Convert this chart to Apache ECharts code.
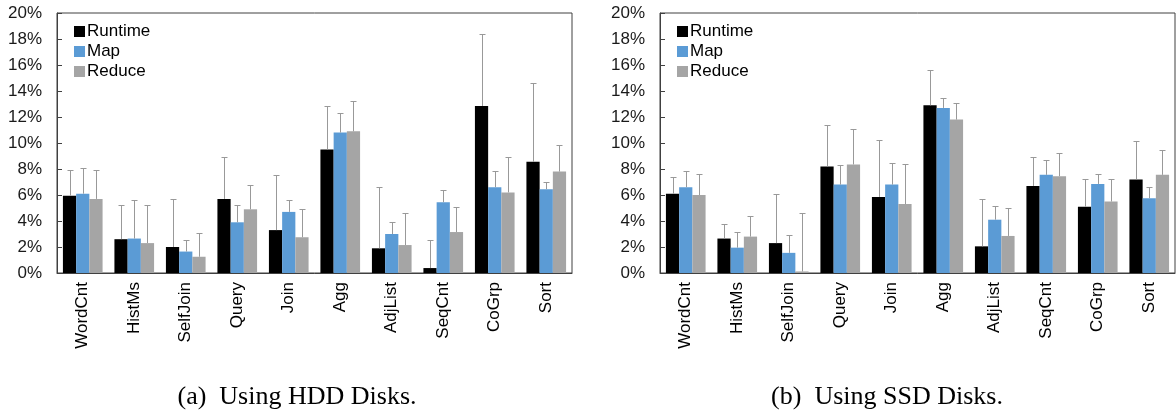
<!DOCTYPE html>
<html>
<head>
<meta charset="utf-8">
<script src="https://cdn.jsdelivr.net/npm/echarts@6/dist/echarts.min.js"></script>
<style>
  html, body { margin: 0; padding: 0; background: #fff; }
  #chart { width: 1176px; height: 414px; }
</style>
</head>
<body>
<div id="chart"></div>
<script>
// 数据 (百分比)
const categories = ['WordCnt', 'HistMs', 'SelfJoin', 'Query', 'Join', 'Agg', 'AdjList', 'SeqCnt', 'CoGrp', 'Sort'];
const yTicks = [0, 2, 4, 6, 8, 10, 12, 14, 16, 18, 20];

// HDD
const hddRuntime = [5.95, 2.6, 2.0, 5.7, 3.3, 9.5, 1.9, 0.38, 12.85, 8.55];
const hddMap = [6.1, 2.65, 1.65, 3.9, 4.7, 10.8, 3.0, 5.45, 6.6, 6.45];
const hddReduce = [5.7, 2.3, 1.25, 4.9, 2.75, 10.9, 2.15, 3.15, 6.2, 7.8];
const hddRuntimeHi = [7.95, 5.25, 5.7, 8.9, 7.55, 12.85, 6.65, 2.55, 18.4, 14.6];
const hddMapHi = [8.1, 5.6, 2.55, 5.25, 5.6, 12.3, 3.9, 6.4, 7.85, 7.0];
const hddReduceHi = [7.95, 5.25, 3.05, 6.75, 4.95, 13.2, 4.6, 5.05, 8.95, 9.85];

// SSD
const ssdRuntime = [6.1, 2.65, 2.3, 8.2, 5.85, 12.9, 2.05, 6.7, 5.1, 7.2];
const ssdMap = [6.6, 1.95, 1.55, 6.8, 6.8, 12.7, 4.1, 7.55, 6.85, 5.75];
const ssdReduce = [6.0, 2.8, 0.12, 8.35, 5.3, 11.8, 2.85, 7.45, 5.5, 7.55];
const ssdRuntimeHi = [7.35, 3.8, 6.1, 11.4, 10.25, 15.65, 5.7, 8.95, 7.2, 10.15];
const ssdMapHi = [7.85, 3.15, 2.9, 8.3, 8.45, 13.45, 5.15, 8.7, 7.6, 6.6];
const ssdReduceHi = [7.6, 4.4, 4.65, 11.1, 8.4, 13.1, 5.0, 9.25, 7.2, 9.5];

const seriesNames = ['Runtime', 'Map', 'Reduce'];
const colors = ['#000000', '#5b9bd5', '#a5a5a5'];
const catGap = 0.23;

// 误差线
function errRender(idx) {
  return function (params, api) {
    const x = api.value(0);
    const base = api.coord([x, api.value(1)]);
    const top = api.coord([x, api.value(2)]);
    const band = api.size([1, 0])[0];
    const w = band * (1 - catGap) / 3;
    const cx = Math.round(base[0] + (idx - 1) * w) + 0.5;
    const ty = Math.round(top[1]) + 0.5;
    return {
      type: 'group',
      children: [
        { type: 'line', shape: { x1: cx, y1: base[1], x2: cx, y2: ty }, style: { stroke: '#999', lineWidth: 1 } },
        { type: 'line', shape: { x1: cx - 3, y1: ty, x2: cx + 3, y2: ty }, style: { stroke: '#999', lineWidth: 1 } }
      ]
    };
  };
}

function buildSeries(gi, vals, his) {
  const out = [];
  vals.forEach((v, i) => {
    out.push({
      name: seriesNames[i],
      type: 'bar',
      xAxisIndex: gi,
      yAxisIndex: gi,
      data: v,
      barGap: '0%',
      barCategoryGap: (catGap * 100) + '%',
      itemStyle: { color: colors[i] },
      silent: true,
      animation: false,
      z: 2
    });
  });
  vals.forEach((v, i) => {
    out.push({
      type: 'custom',
      xAxisIndex: gi,
      yAxisIndex: gi,
      renderItem: errRender(i),
      data: v.map((d, k) => [k, d, his[i][k]]),
      silent: true,
      animation: false,
      z: 3
    });
  });
  return out;
}

function xAxisOf(gi) {
  return {
    type: 'category',
    gridIndex: gi,
    data: categories,
    axisLine: { lineStyle: { color: '#404040', width: 1 } },
    axisTick: { show: false },
    axisLabel: { rotate: 90, fontSize: 17, color: '#000', fontFamily: 'Liberation Sans', margin: 9, interval: 0 }
  };
}

function yAxisOf(gi) {
  return {
    type: 'value',
    gridIndex: gi,
    min: 0,
    max: 20,
    interval: 2,
    axisLine: { show: true, lineStyle: { color: '#404040', width: 1 } },
    axisTick: { show: true, inside: true, length: 5, lineStyle: { color: '#404040' } },
    splitLine: { show: false },
    axisLabel: { fontSize: 17, color: '#1a1a1a', fontFamily: 'Liberation Sans', margin: 15, formatter: '{value}%' }
  };
}

function legendOf(left) {
  return {
    data: seriesNames,
    orient: 'vertical',
    left: left,
    top: 18,
    itemWidth: 11,
    itemHeight: 11,
    itemGap: 3,
    icon: 'rect',
    selectedMode: false,
    textStyle: { fontSize: 17, color: '#000', fontFamily: 'Liberation Sans', padding: [0, 0, 0, -3] }
  };
}

const chart = echarts.init(document.getElementById('chart'), null, { renderer: 'canvas' });
chart.setOption({
  animation: false,
  backgroundColor: '#fff',
  grid: [
    { left: 57, right: 604, top: 13, bottom: 141, show: true, borderColor: '#404040', borderWidth: 1 },
    { left: 660, right: 1, top: 13, bottom: 141, show: true, borderColor: '#404040', borderWidth: 1 }
  ],
  legend: [legendOf(69), legendOf(672)],
  xAxis: [xAxisOf(0), xAxisOf(1)],
  yAxis: [yAxisOf(0), yAxisOf(1)],
  title: [
    { text: '(a)  Using HDD Disks.', left: 292, top: 379, textAlign: 'center',
      textStyle: { fontSize: 26, fontWeight: 'normal', color: '#000', fontFamily: 'Liberation Serif' } },
    { text: '(b)  Using SSD Disks.', left: 882, top: 379, textAlign: 'center',
      textStyle: { fontSize: 26, fontWeight: 'normal', color: '#000', fontFamily: 'Liberation Serif' } }
  ],
  series: [].concat(
    buildSeries(0, [hddRuntime, hddMap, hddReduce], [hddRuntimeHi, hddMapHi, hddReduceHi]),
    buildSeries(1, [ssdRuntime, ssdMap, ssdReduce], [ssdRuntimeHi, ssdMapHi, ssdReduceHi])
  )
});
</script>
</body>
</html>
